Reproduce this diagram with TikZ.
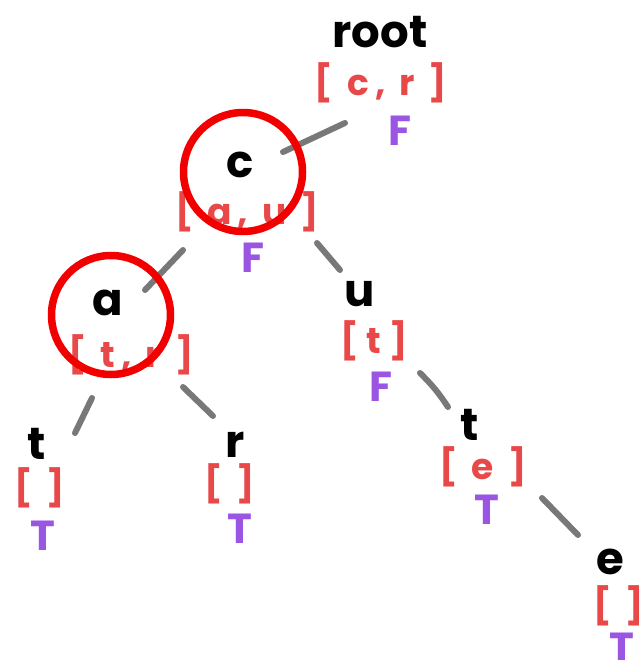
\documentclass[tikz,border=0pt]{standalone}
\usepackage{fontspec}
\setmainfont{Poppins}
\definecolor{lst}{HTML}{E84848}
\definecolor{flg}{HTML}{9A55E2}
\definecolor{edg}{HTML}{787878}
\definecolor{ringc}{HTML}{F20000}
\newcommand{\gp}{\hspace{14pt}}
\begin{document}
\begin{tikzpicture}[x=1pt,y=-1pt,
  letter/.style={font=\fontsize{45}{45}\selectfont\bfseries, text=black, inner sep=0pt},
  list/.style={font=\fontsize{36}{36}\selectfont\bfseries, text=lst, inner sep=0pt},
  flag/.style={font=\fontsize{42}{42}\selectfont\bfseries, text=flg, inner sep=0pt},
  edge/.style={draw=edg, line width=6pt, line cap=round},
  ring/.style={draw=ringc, line width=7.5pt, circle, minimum size=119pt, inner sep=0pt}]
\useasboundingbox (0,0) rectangle (642,660);
% root
\node[letter] (root) at (380,32) {root};
\node[list] (rootL) at (381,83) {[\gp c\,,\gp r\gp]};
\node[flag] (rootF) at (400,131) {F};
% c
\node[letter] (c) at (240,165) {c};
\node[list] (cL) at (247,212) {[\gp a\,,\gp u\gp]};
\node[flag] (cF) at (253,258) {F};
% a
\node[letter] (a) at (108,303) {a};
\node[list] (aL) at (131,355) {[\gp t\,,\gp r\gp]};
% t leaf
\node[letter] (t1) at (37,444) {t};
\node[list] (t1L) at (40,488) {[\hspace{14pt}]};
\node[flag] (t1F) at (43,536) {T};
% r leaf
\node[letter] (r1) at (235,445) {r};
\node[list] (r1L) at (230,484) {[\hspace{14pt}]};
\node[flag] (r1F) at (240,529) {T};
% u
\node[letter] (u) at (360,294) {u};
\node[list] (uL) at (374,341) {[\hspace{8pt}t\hspace{8pt}]};
\node[flag] (uF) at (381,387) {F};
% t under u
\node[letter] (t2) at (470,425) {t};
\node[list] (t2L) at (483,467) {[\gp e\gp]};
\node[flag] (t2F) at (487,510) {T};
% e leaf
\node[letter] (e) at (610,562) {e};
\node[list] (eL) at (619,606) {[\hspace{14pt}]};
\node[flag] (eF) at (622,648) {T};
% connector ends
\coordinate (rc1) at (283,152); \coordinate (rc2) at (345,123);
\coordinate (ca1) at (183,250); \coordinate (ca2) at (145,290);
\coordinate (cu1) at (317,243); \coordinate (cu2) at (340,270);
\coordinate (at1) at (92,398);  \coordinate (at2) at (75,433);
\coordinate (ar1) at (183,387); \coordinate (ar2) at (213,416);
\coordinate (ut1) at (420,373); \coordinate (ut2) at (448,407);
\coordinate (te1) at (542,498); \coordinate (te2) at (578,535);
\draw[edge] (rc1) -- (rc2);
\draw[edge] (ca1) -- (ca2);
\draw[edge] (cu1) -- (cu2);
\draw[edge] (at1) -- (at2);
\draw[edge] (ar1) -- (ar2);
\draw[edge] (ut1) to[bend left=6] (ut2);
\draw[edge] (te1) -- (te2);
% highlight rings
\node[ring] (ringC) at (243,172) {};
\node[ring] (ringA) at (111,315) {};
\end{tikzpicture}
\end{document}
